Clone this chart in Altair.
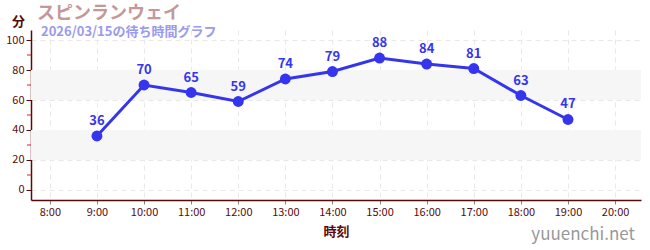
import altair as alt
import pandas as pd

hours = [9, 10, 11, 12, 13, 14, 15, 16, 17, 18, 19]
waits = [36, 70, 65, 59, 74, 79, 88, 84, 81, 63, 47]
band_lo = [20, 60]
band_hi = [40, 80]
minor_ticks = [10, 30, 50, 70, 90]
title_text = "スピンランウェイ"
subtitle_text = "2026/03/15の待ち時間グラフ"
watermark = "yuuenchi.net"

FONT = "Noto Sans CJK JP"
AXIS_COLOR = "#5a0a0a"
LINE_COLOR = "#3535ee"

df = pd.DataFrame({"hour": hours, "wait": waits})
bands = pd.DataFrame({"lo": band_lo, "hi": band_hi})
minor = pd.DataFrame({"v": minor_ticks})

xscale = alt.Scale(domain=[7.6, 20.55], nice=False, zero=False)
yscale = alt.Scale(domain=[-6.67, 106.67], nice=False, zero=False)

xaxis = alt.Axis(
    values=list(range(8, 21)),
    labelExpr="datum.value + ':00'",
    labelOverlap=False,
    title="時刻",
    titleFont=FONT, titleFontSize=13, titleFontWeight="bold", titleColor=AXIS_COLOR,
    titlePadding=8,
    labelFont=FONT, labelFontSize=11, labelColor=AXIS_COLOR,
    domainColor=AXIS_COLOR, domainWidth=1.5,
    tickColor="#888888", tickSize=4,
    grid=True, gridColor="#e8e8e8", gridDash=[5, 4],
)
yaxis = alt.Axis(
    values=[0, 20, 40, 60, 80, 100],
    labelOverlap=False,
    title="分", titleAngle=0, titleX=-13, titleY=-9,
    titleFont=FONT, titleFontSize=13, titleFontWeight="bold", titleColor=AXIS_COLOR,
    titleAlign="center", titleBaseline="middle",
    labelFont=FONT, labelFontSize=11, labelColor=AXIS_COLOR,
    domainColor=AXIS_COLOR, domainWidth=1.5,
    tickColor=AXIS_COLOR, tickSize=5,
    grid=True, gridColor="#e8e8e8", gridDash=[5, 4],
)

band_layer = alt.Chart(bands).mark_rect(color="#f6f6f6").encode(
    x=alt.value(0), x2=alt.value(610),
    y=alt.Y("lo:Q", scale=yscale, axis=yaxis, title="分"),
    y2="hi:Q",
)

minor_layer = alt.Chart(minor).mark_rule(color="#dd2222", strokeWidth=1).encode(
    x=alt.value(-4), x2=alt.value(0),
    y=alt.Y("v:Q", scale=yscale, axis=yaxis, title="分"),
)

base = alt.Chart(df).encode(
    x=alt.X("hour:Q", scale=xscale, axis=xaxis, title="時刻"),
    y=alt.Y("wait:Q", scale=yscale, axis=yaxis, title="分"),
)
line = base.mark_line(color=LINE_COLOR, strokeWidth=3)
points = base.mark_circle(color=LINE_COLOR, size=120, opacity=1)
labels = base.mark_text(color=LINE_COLOR, font=FONT, fontSize=13, fontWeight="bold", dy=-15).encode(
    text="wait:Q"
)

title_layer = alt.Chart(pd.DataFrame({"t": [title_text]})).mark_text(
    font=FONT, fontSize=18, fontWeight="bold", color="#c49898", align="left", baseline="middle"
).encode(x=alt.value(6), y=alt.value(-16), text="t:N")

subtitle_layer = alt.Chart(pd.DataFrame({"t": [subtitle_text]})).mark_text(
    font=FONT, fontSize=13, fontWeight="bold", color="#9a9aee", align="left", baseline="middle"
).encode(x=alt.value(10), y=alt.value(2), text="t:N")

wm_layer = alt.Chart(pd.DataFrame({"t": [watermark]})).mark_text(
    font=FONT, fontSize=17, color="#999999", align="right", baseline="middle"
).encode(x=alt.value(604), y=alt.value(35 + 170), text="t:N")

chart = alt.layer(
    band_layer, minor_layer, line, points, labels, title_layer, subtitle_layer, wm_layer
).properties(
    width=610, height=170,
    autosize=alt.AutoSizeParams(type="none"),
    padding={"left": 31, "top": 30, "right": 9, "bottom": 50},
    background="white",
).configure_view(stroke=None)

chart.save("out.html", embed_options={"renderer": "svg", "actions": False})
